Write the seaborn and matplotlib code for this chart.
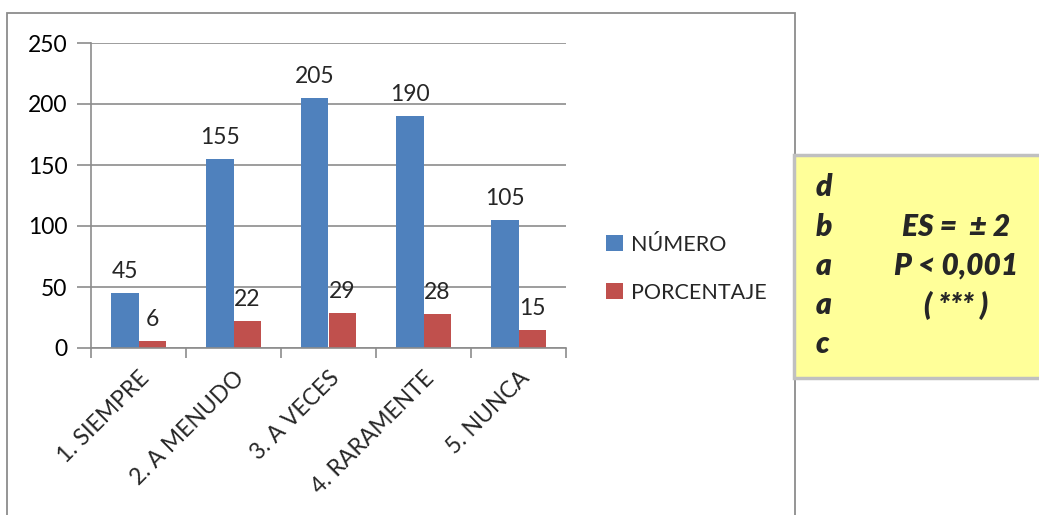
import pandas as pd
import numpy as np
import seaborn as sns
import matplotlib.pyplot as plt
from matplotlib.patches import Rectangle

# Data
categorias = ["1. SIEMPRE", "2. A MENUDO", "3. A VECES", "4. RARAMENTE", "5. NUNCA"]
numero = [45, 155, 205, 190, 105]
porcentaje = [6, 22, 29, 28, 15]
series = ["NÚMERO", "PORCENTAJE"]
colores = ["#4F81BD", "#C0504D"]

df = pd.DataFrame({
    "categoria": categorias * 2,
    "valor": numero + porcentaje,
    "serie": [series[0]] * 5 + [series[1]] * 5,
})

sns.set_theme(style="white")
plt.rcParams["font.family"] = ["Lato", "DejaVu Sans"]

fig = plt.figure(figsize=(10.39, 5.15), dpi=100)
ax = fig.add_axes([91 / 1039, 1 - 348 / 515, 475 / 1039, 305 / 515])

sns.barplot(data=df, x="categoria", y="valor", hue="serie", palette=colores,
            width=0.57, saturation=1, ax=ax, legend=True, edgecolor="none")

ax.set_ylim(0, 250)
ax.set_xlim(-0.5, 4.5)
ax.set_yticks([0, 50, 100, 150, 200, 250])
ax.yaxis.grid(True, color="#8c8c8c", linewidth=1.2)
ax.set_axisbelow(True)
ax.set_xlabel("")
ax.set_ylabel("")

for s in ["top", "right"]:
    ax.spines[s].set_visible(False)
for s in ["left", "bottom"]:
    ax.spines[s].set_color("#8c8c8c")
    ax.spines[s].set_linewidth(1.2)

fs = 16.5
ax.tick_params(axis="y", left=True, length=10, color="#8c8c8c", width=1.2,
               labelsize=fs, pad=7, labelcolor="black")
ax.set_xticks(np.arange(5))
ax.set_xticklabels(categorias, rotation=45, ha="right", rotation_mode="anchor",
                   fontsize=fs)
ax.tick_params(axis="x", bottom=False, pad=8)
ax.set_xticks(np.arange(-0.5, 5, 1), minor=True)
ax.tick_params(axis="x", which="minor", bottom=True, length=7,
               color="#8c8c8c", width=1.2)

for cont in ax.containers:
    ax.bar_label(cont, fontsize=fs, padding=8)

leg = ax.legend(loc="center left", bbox_to_anchor=(0.085, 0.26),
                bbox_transform=ax.transAxes, frameon=False, borderaxespad=0,
                borderpad=0, fontsize=15.5, handlelength=0.75, handleheight=0.75,
                labelspacing=1.3, handletextpad=0.4)
leg.set_bbox_to_anchor((1.085, 0.26), transform=ax.transAxes)

# outer chart border
fig.patches.append(Rectangle((7 / 1039, -0.05), 788 / 1039, 1.05 - 13 / 515,
                             transform=fig.transFigure, fill=False,
                             edgecolor="#8c8c8c", linewidth=1.3))

# yellow note box
fig.patches.append(Rectangle((794 / 1039, 1 - 378 / 515), 250 / 1039, 223 / 515,
                             transform=fig.transFigure, facecolor="#FFFF99",
                             edgecolor="#c0c0c0", linewidth=2.5, zorder=5))

letras = ["d", "b", "a", "a", "c"]
ys = [187, 227, 266, 305, 344]
for l, y in zip(letras, ys):
    fig.text(816 / 1039, 1 - y / 515, l, fontsize=21.5, fontweight="heavy",
             fontstyle="italic", va="center", ha="left", zorder=6)

notas = ["ES =  ± 2", "P < 0,001", "( *** )"]
for t, y in zip(notas, ys[1:4]):
    fig.text(956 / 1039, 1 - y / 515, t, fontsize=21.5, fontweight="heavy",
             fontstyle="italic", va="center", ha="center", zorder=6)

fig.savefig("out.png", dpi=100)
